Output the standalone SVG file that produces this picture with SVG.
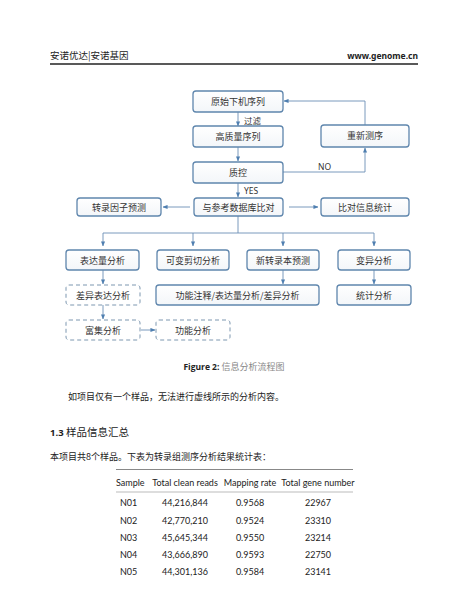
<svg xmlns="http://www.w3.org/2000/svg" width="468" height="600" viewBox="0 0 468 600">
<defs>
<marker id="ah" viewBox="0 0 6 6" refX="5.5" refY="3" markerWidth="5" markerHeight="5" orient="auto" markerUnits="userSpaceOnUse">
<path d="M0,0.5 L6,3 L0,5.5 z" fill="#4f7fb0"/>
</marker>
<linearGradient id="bg" x1="0" y1="0" x2="0" y2="1">
<stop offset="0" stop-color="#ffffff"/>
<stop offset="1" stop-color="#f3f6f9"/>
</linearGradient>
</defs>
<style>
.box{fill:url(#bg);stroke:#5f86ad;stroke-width:1.3}
.dbox{fill:#ffffff;stroke:#7d97b0;stroke-width:1;stroke-dasharray:4 3}
.bt{font-family:"Noto Sans CJK SC","Noto Sans",sans-serif;font-size:9px;fill:#333;text-anchor:middle}
.lbl{font-family:"Noto Sans","Noto Sans CJK SC",sans-serif;font-size:8.5px;fill:#333}
.con{fill:none;stroke:#6b8fb5;stroke-width:0.9}
.cap{font-family:"Noto Sans CJK SC",sans-serif;font-size:9px}
.body{font-family:"Noto Sans CJK SC",sans-serif;font-size:9px;fill:#222}
.th{font-family:Lato,"Noto Sans",sans-serif;font-size:9px;fill:#222;text-anchor:middle}
.td{font-family:Lato,"Noto Sans",sans-serif;font-size:9px;fill:#222;text-anchor:middle}
</style>
<rect width="468" height="600" fill="#ffffff"/>

<g id="header">
<text x="50" y="59" font-family="Noto Sans CJK SC,sans-serif" font-size="9.5" fill="#222">安诺优达|安诺基因</text>
<text x="418" y="59" font-family="Noto Sans,sans-serif" font-size="8.5" font-weight="bold" fill="#222" text-anchor="end">www.genome.cn</text>
<line x1="50" y1="64" x2="418" y2="64" stroke="#222" stroke-width="1.5"/>
</g>

<g id="connectors">
<line class="con" x1="238" y1="112" x2="238" y2="126" marker-end="url(#ah)"/>
<line class="con" x1="238" y1="147" x2="238" y2="161" marker-end="url(#ah)"/>
<polyline class="con" points="283,172 365,172 365,148" marker-end="url(#ah)"/>
<polyline class="con" points="365,125 365,101 284,101" marker-end="url(#ah)"/>
<line class="con" x1="238" y1="183" x2="238" y2="197" marker-end="url(#ah)"/>
<line class="con" x1="190" y1="207" x2="163" y2="207" marker-end="url(#ah)"/>
<line class="con" x1="289" y1="207" x2="318" y2="207" marker-end="url(#ah)"/>
<polyline class="con" points="238,216 238,233"/>
<line class="con" x1="103" y1="233" x2="374" y2="233"/>
<line class="con" x1="103" y1="233" x2="103" y2="246" marker-end="url(#ah)"/>
<line class="con" x1="193" y1="233" x2="193" y2="246" marker-end="url(#ah)"/>
<line class="con" x1="283" y1="233" x2="283" y2="246" marker-end="url(#ah)"/>
<line class="con" x1="374" y1="233" x2="374" y2="246" marker-end="url(#ah)"/>
<line class="con" x1="103" y1="270" x2="103" y2="284" marker-end="url(#ah)"/>
<line class="con" x1="283" y1="270" x2="283" y2="284" marker-end="url(#ah)"/>
<line class="con" x1="374" y1="270" x2="374" y2="284" marker-end="url(#ah)"/>
<line class="con" x1="103" y1="305" x2="103" y2="319" marker-end="url(#ah)"/>
<line class="con" x1="141" y1="330" x2="155" y2="330" marker-end="url(#ah)"/>
<text class="lbl" x="244" y="124">过滤</text>
<text class="lbl" x="318" y="170">NO</text>
<text class="lbl" x="244" y="194">YES</text>
</g>

<g id="n1"><rect class="box" x="193" y="91" width="90" height="21" rx="3"/><text class="bt" x="238" y="105">原始下机序列</text></g>
<g id="n2"><rect class="box" x="193" y="126" width="90" height="21" rx="3"/><text class="bt" x="238" y="140">高质量序列</text></g>
<g id="n3"><rect class="box" x="321" y="125" width="88" height="22" rx="3"/><text class="bt" x="365" y="139">重新测序</text></g>
<g id="n4"><rect class="box" x="193" y="162" width="90" height="21" rx="3"/><text class="bt" x="238" y="176">质控</text></g>
<g id="n5"><rect class="box" x="77" y="198" width="84" height="18" rx="3"/><text class="bt" x="119" y="210.5">转录因子预测</text></g>
<g id="n6"><rect class="box" x="194" y="198" width="89" height="18" rx="3"/><text class="bt" x="238.5" y="210.5">与参考数据库比对</text></g>
<g id="n7"><rect class="box" x="321" y="198" width="88" height="18" rx="3"/><text class="bt" x="365" y="210.5">比对信息统计</text></g>
<g id="n8"><rect class="box" x="66" y="250" width="73" height="20" rx="3"/><text class="bt" x="102.5" y="263.5">表达量分析</text></g>
<g id="n9"><rect class="box" x="157" y="250" width="72" height="20" rx="3"/><text class="bt" x="193" y="263.5">可变剪切分析</text></g>
<g id="n10"><rect class="box" x="247" y="250" width="72" height="20" rx="3"/><text class="bt" x="283" y="263.5">新转录本预测</text></g>
<g id="n11"><rect class="box" x="338" y="250" width="72" height="20" rx="3"/><text class="bt" x="374" y="263.5">变异分析</text></g>
<g id="n12"><rect class="dbox" x="66" y="285" width="74" height="20" rx="3"/><text class="bt" x="103" y="298.5">差异表达分析</text></g>
<g id="n13"><rect class="box" x="156" y="285" width="163" height="20" rx="3"/><text class="bt" x="237.5" y="298.5">功能注释/表达量分析/差异分析</text></g>
<g id="n14"><rect class="box" x="337" y="285" width="74" height="20" rx="3"/><text class="bt" x="374" y="298.5">统计分析</text></g>
<g id="n15"><rect class="dbox" x="66" y="320" width="74" height="20" rx="3"/><text class="bt" x="103" y="333.5">富集分析</text></g>
<g id="n16"><rect class="dbox" x="156" y="320" width="74" height="20" rx="3"/><text class="bt" x="193" y="333.5">功能分析</text></g>

<g id="text">
<text class="cap" x="234" y="370" text-anchor="middle"><tspan font-family="Open Sans,Noto Sans,sans-serif" font-weight="bold" fill="#222" font-size="8.5">Figure 2: </tspan><tspan fill="#888">信息分析流程图</tspan></text>
<text class="body" x="68" y="400">如项目仅有一个样品，无法进行虚线所示的分析内容。</text>
<text x="50" y="436" font-family="Noto Sans CJK SC,sans-serif" font-size="10.5" fill="#222"><tspan font-family="Open Sans,Noto Sans,sans-serif" font-weight="bold" font-size="9.5">1.3 </tspan>样品信息汇总</text>
<text class="body" x="50" y="460">本项目共8个样品。下表为转录组测序分析结果统计表：</text>
</g>

<g id="table">
<line x1="116" y1="469.5" x2="353" y2="469.5" stroke="#888" stroke-width="1"/>
<line x1="116" y1="492" x2="353" y2="492" stroke="#aaa" stroke-width="0.8"/>
<text class="th" x="116" y="486" style="text-anchor:start">Sample</text>
<text class="th" x="185" y="486">Total clean reads</text>
<text class="th" x="250" y="486">Mapping rate</text>
<text class="th" x="318" y="486">Total gene number</text>
<g class="td">
<text x="120" y="506" style="text-anchor:start">N01</text><text x="185" y="506">44,216,844</text><text x="250" y="506">0.9568</text><text x="318" y="506">22967</text>
<text x="120" y="524" style="text-anchor:start">N02</text><text x="185" y="524">42,770,210</text><text x="250" y="524">0.9524</text><text x="318" y="524">23310</text>
<text x="120" y="541" style="text-anchor:start">N03</text><text x="185" y="541">45,645,344</text><text x="250" y="541">0.9550</text><text x="318" y="541">23214</text>
<text x="120" y="558" style="text-anchor:start">N04</text><text x="185" y="558">43,666,890</text><text x="250" y="558">0.9593</text><text x="318" y="558">22750</text>
<text x="120" y="575" style="text-anchor:start">N05</text><text x="185" y="575">44,301,136</text><text x="250" y="575">0.9584</text><text x="318" y="575">23141</text>
</g>
</g>
</svg>
